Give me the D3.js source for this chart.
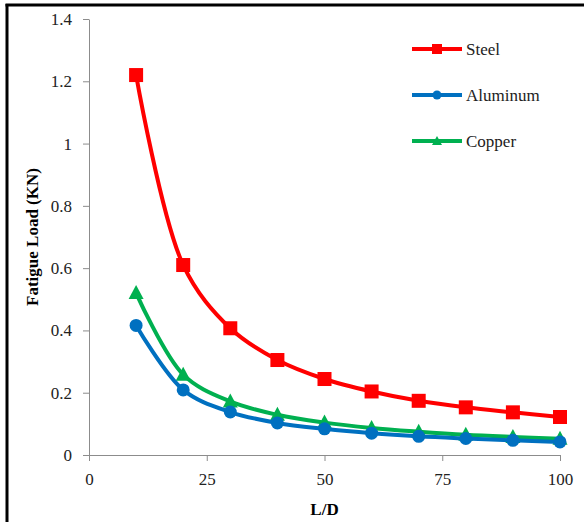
<!DOCTYPE html>
<meta charset="utf-8">
<style>
body { margin: 0; background: #fff; }
text { font-family: "Liberation Serif", "Times New Roman", serif; }
.tick text { font-size: 17px; fill: #222; font-family: "Liberation Serif", "Times New Roman", serif; }
.tick line, .domain { stroke: #8c8c8c; }
</style>
<body>
<script src="https://cdnjs.cloudflare.com/ajax/libs/d3/7.8.5/d3.min.js"></script>
<script>

// data
var ld = [10, 20, 30, 40, 50, 60, 70, 80, 90, 100];
var steel    = [1.22, 0.61, 0.407, 0.305, 0.244, 0.204, 0.174, 0.153, 0.137, 0.122];
var aluminum = [0.416, 0.209, 0.138, 0.103, 0.084, 0.070, 0.060, 0.053, 0.047, 0.042];
var copper   = [0.52, 0.258, 0.172, 0.129, 0.104, 0.087, 0.075, 0.065, 0.058, 0.052];
var xTicks = [0, 25, 50, 75, 100];
var yTicks = [0, 0.2, 0.4, 0.6, 0.8, 1, 1.2, 1.4];

var series = [
  {name: "Steel", values: steel, color: "#ff0000", marker: "square"},
  {name: "Aluminum", values: aluminum, color: "#0070c0", marker: "circle"},
  {name: "Copper", values: copper, color: "#00b050", marker: "triangle"}
];

var W = 587, H = 522;
var margin = {left: 89, top: 19, right: 27, bottom: 67};

var svg = d3.select("body").append("svg")
    .attr("width", W)
    .attr("height", H);

// frame (only left and top edges show)
svg.append("line").attr("x1", 7).attr("x2", 7).attr("y1", 4).attr("y2", H)
    .attr("stroke", "#000").attr("stroke-width", 3);
svg.append("line").attr("x1", 5.5).attr("x2", 584).attr("y1", 5).attr("y2", 5)
    .attr("stroke", "#000").attr("stroke-width", 3);

var x = d3.scaleLinear().domain([0, 100]).range([margin.left, W - margin.right]);
var y = d3.scaleLinear().domain([0, 1.4]).range([H - margin.bottom, margin.top]);

// axes
svg.append("g")
    .attr("transform", "translate(0," + y(0) + ")")
    .call(d3.axisBottom(x).tickValues(xTicks).tickSize(6).tickSizeOuter(0).tickPadding(8))
    .attr("font-family", null)
    .selectAll(".tick text").attr("dy", "0.95em");

svg.append("g")
    .attr("transform", "translate(" + x(0) + ",0)")
    .call(d3.axisLeft(y).tickValues(yTicks).tickSize(6).tickSizeOuter(0).tickPadding(11)
      .tickFormat(function(d) { return d3.format("")(+d.toFixed(1)); }))
    .attr("font-family", null);

// axis titles
svg.append("text")
    .attr("x", (x(0) + x(100)) / 2).attr("y", 515)
    .attr("text-anchor", "middle")
    .attr("font-weight", "bold").attr("font-size", 17)
    .text("L/D");

svg.append("text")
    .attr("transform", "translate(38," + (y(0) + y(1.4)) / 2 + ") rotate(-90)")
    .attr("text-anchor", "middle")
    .attr("font-weight", "bold").attr("font-size", 17)
    .text("Fatigue Load (KN)");

var line = d3.line()
    .x(function(d, i) { return x(ld[i]); })
    .y(function(d) { return y(d); })
    .curve(d3.curveCatmullRom.alpha(0.5));

function drawMarker(g, type, color, cx, cy) {
  if (type == "square") {
    g.append("rect").attr("x", cx - 7).attr("y", cy - 7)
      .attr("width", 14).attr("height", 14).attr("fill", color);
  } else if (type == "circle") {
    g.append("circle").attr("cx", cx).attr("cy", cy).attr("r", 6.5).attr("fill", color);
  } else {
    g.append("path")
      .attr("d", "M" + cx + "," + (cy - 8) + "L" + (cx + 7.5) + "," + (cy + 6) + "L" + (cx - 7.5) + "," + (cy + 6) + "Z")
      .attr("fill", color);
  }
}

// draw back to front
series.slice().reverse().forEach(function(s) {
  var g = svg.append("g");
  g.append("path")
      .datum(s.values)
      .attr("fill", "none")
      .attr("stroke", s.color)
      .attr("stroke-width", 4)
      .attr("d", line);
  s.values.forEach(function(v, i) {
    drawMarker(g, s.marker, s.color, x(ld[i]), y(v));
  });
});

// legend
var legend = svg.append("g");
series.forEach(function(s, i) {
  var ly = 49 + i * 46;
  legend.append("line")
      .attr("x1", 412).attr("x2", 462).attr("y1", ly).attr("y2", ly)
      .attr("stroke", s.color).attr("stroke-width", 4);
  if (s.marker == "square") {
    legend.append("rect").attr("x", 432).attr("y", ly - 5).attr("width", 10).attr("height", 10).attr("fill", s.color);
  } else if (s.marker == "circle") {
    legend.append("circle").attr("cx", 437).attr("cy", ly).attr("r", 4.5).attr("fill", s.color);
  } else {
    legend.append("path").attr("d", "M437," + (ly - 5) + "L442," + (ly + 4) + "L432," + (ly + 4) + "Z").attr("fill", s.color);
  }
  legend.append("text")
      .attr("x", 466).attr("y", ly + 5.5)
      .attr("font-size", 17).attr("fill", "#222")
      .text(s.name);
});

</script>
</body>
